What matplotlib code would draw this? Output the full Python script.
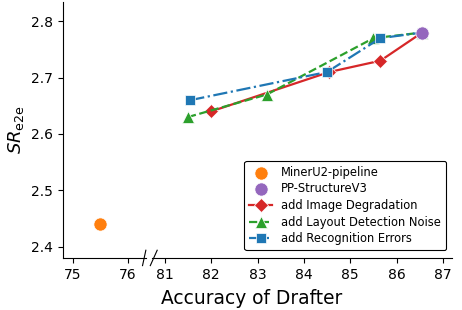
import matplotlib
matplotlib.use("Agg")
import matplotlib.pyplot as plt

# data
mineru_x, mineru_y = [75.5], [2.44]
pp_x, pp_y = [86.55], [2.78]

degr_x = [82.0, 84.55, 85.65, 86.55]
degr_y = [2.64, 2.71, 2.73, 2.78]

layout_x = [81.5, 83.2, 85.5, 86.55]
layout_y = [2.63, 2.67, 2.77, 2.78]

recog_x = [81.55, 84.5, 85.65, 86.55]
recog_y = [2.66, 2.71, 2.77, 2.78]

left_ticks = [75, 76]
right_ticks = [81, 82, 83, 84, 85, 86, 87]
y_ticks = [2.4, 2.5, 2.6, 2.7, 2.8]

fig = plt.figure(figsize=(4.62, 3.10), dpi=100)
gs = fig.add_gridspec(1, 2, width_ratios=[83, 300], wspace=0.031,
                      left=0.136, right=0.978, bottom=0.168, top=0.995)
ax1 = fig.add_subplot(gs[0])
ax2 = fig.add_subplot(gs[1], sharey=ax1)

for ax in (ax1, ax2):
    ax.scatter(mineru_x, mineru_y, s=90, color="C1", edgecolor="white",
               linewidth=0.5, zorder=4, label="MinerU2-pipeline")
    ax.scatter(pp_x, pp_y, s=90, color="C4", edgecolor="white",
               linewidth=0.5, zorder=4, label="PP-StructureV3")
    ax.plot(degr_x, degr_y, "-", marker="D", color="C3", ms=7, lw=1.6,
            mec="white", mew=0.5, label="add Image Degradation")
    ax.plot(layout_x, layout_y, "--", marker="^", color="C2", ms=8.5, lw=1.6,
            mec="white", mew=0.5, label="add Layout Detection Noise")
    ax.plot(recog_x, recog_y, "-.", marker="s", color="C0", ms=7.5, lw=1.6,
            mec="white", mew=0.5, label="add Recognition Errors")
    ax.spines["top"].set_visible(False)
    ax.spines["right"].set_visible(False)
    ax.tick_params(labelsize=10)

ax1.set_xlim(74.82, 76.33)
ax2.set_xlim(80.72, 87.19)
ax1.set_ylim(2.38, 2.835)
ax1.set_xticks(left_ticks)
ax2.set_xticks(right_ticks)
ax1.set_yticks(y_ticks)
ax2.spines["left"].set_visible(False)
ax2.tick_params(axis="y", left=False, labelleft=False)

# break marks
kw = dict(color="k", lw=0.8, clip_on=False)
ax1.plot([1 - 0.04, 1.0], [-0.03, 0.03], transform=ax1.transAxes, **kw)
ax2.plot([-0.005, 0.018], [-0.03, 0.03], transform=ax2.transAxes, **kw)

ax1.set_ylabel(r"$SR_{\mathrm{e2e}}$", fontsize=13)
fig.text(0.545, 0.02, "Accuracy of Drafter", ha="center", fontsize=13.4)

leg = ax2.legend(loc="lower right", fontsize=8.3, frameon=True, fancybox=True,
                 edgecolor="black", framealpha=1, borderpad=0.4,
                 handlelength=2.0, labelspacing=0.32, borderaxespad=0,
                 bbox_to_anchor=(0.98, 0.031))
leg.get_frame().set_linewidth(0.8)

fig.savefig("out.png", dpi=100)
